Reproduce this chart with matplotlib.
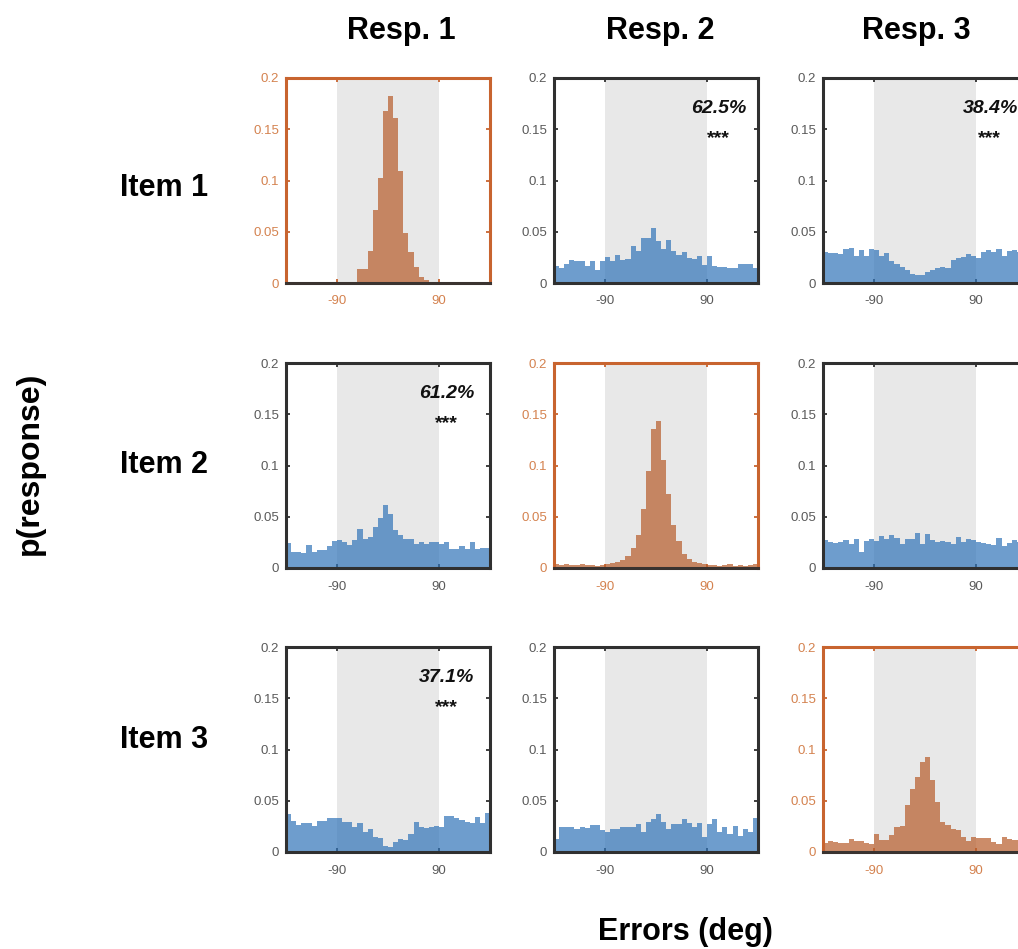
import numpy as np
import matplotlib
matplotlib.use("Agg")
import matplotlib.pyplot as plt

plt.rcParams['font.family'] = ['Liberation Sans', 'DejaVu Sans']
plt.rcParams['axes.unicode_minus'] = False

# Response-error histograms, 40 bins of 9 deg spanning -180..180
item1_resp1 = [0.001, 0.0, 0.001, 0.0, 0.001, 0.0, 0.0, 0.0, 0.001, 0.0,
               0.0, 0.0, 0.001, 0.001, 0.0137, 0.0137, 0.031, 0.071, 0.102, 0.168,
               0.182, 0.161, 0.109, 0.049, 0.030, 0.016, 0.006, 0.003, 0.001, 0.0,
               0.0, 0.0, 0.0, 0.001, 0.0, 0.0, 0.0, 0.0, 0.0, 0.001]
item1_resp2 = [0.017, 0.015, 0.019, 0.022, 0.021, 0.021, 0.017, 0.021, 0.013, 0.021,
               0.025, 0.021, 0.027, 0.022, 0.023, 0.036, 0.031, 0.044, 0.044, 0.054,
               0.041, 0.033, 0.042, 0.031, 0.027, 0.030, 0.024, 0.023, 0.026, 0.018,
               0.026, 0.017, 0.016, 0.016, 0.015, 0.015, 0.019, 0.019, 0.019, 0.015]
item1_resp3 = [0.030, 0.029, 0.029, 0.028, 0.033, 0.034, 0.026, 0.032, 0.026, 0.033,
               0.032, 0.026, 0.029, 0.021, 0.019, 0.016, 0.013, 0.009, 0.008, 0.008,
               0.011, 0.013, 0.015, 0.016, 0.015, 0.022, 0.024, 0.025, 0.028, 0.026,
               0.024, 0.030, 0.032, 0.030, 0.033, 0.026, 0.031, 0.032, 0.030, 0.029]
item2_resp1 = [0.024, 0.016, 0.016, 0.015, 0.022, 0.016, 0.018, 0.018, 0.021, 0.026,
               0.027, 0.025, 0.022, 0.027, 0.038, 0.028, 0.030, 0.040, 0.049, 0.061,
               0.053, 0.037, 0.032, 0.028, 0.028, 0.023, 0.025, 0.023, 0.025, 0.025,
               0.023, 0.025, 0.019, 0.019, 0.021, 0.019, 0.025, 0.019, 0.020, 0.020]
item2_resp2 = [0.004, 0.003, 0.004, 0.003, 0.003, 0.004, 0.003, 0.003, 0.002, 0.003,
               0.004, 0.005, 0.006, 0.008, 0.012, 0.020, 0.032, 0.058, 0.095, 0.136,
               0.143, 0.105, 0.072, 0.042, 0.026, 0.014, 0.009, 0.006, 0.005, 0.004,
               0.003, 0.003, 0.002, 0.003, 0.004, 0.002, 0.003, 0.002, 0.003, 0.004]
item2_resp3 = [0.027, 0.025, 0.024, 0.025, 0.027, 0.023, 0.028, 0.016, 0.026, 0.028,
               0.026, 0.031, 0.028, 0.032, 0.029, 0.023, 0.028, 0.028, 0.034, 0.023,
               0.033, 0.027, 0.025, 0.026, 0.025, 0.023, 0.030, 0.025, 0.028, 0.027,
               0.025, 0.024, 0.023, 0.022, 0.029, 0.021, 0.024, 0.027, 0.025, 0.026]
item3_resp1 = [0.037, 0.030, 0.026, 0.028, 0.028, 0.025, 0.030, 0.030, 0.033, 0.033,
               0.033, 0.029, 0.029, 0.024, 0.028, 0.020, 0.022, 0.015, 0.014, 0.006,
               0.005, 0.010, 0.013, 0.012, 0.018, 0.029, 0.024, 0.023, 0.024, 0.025,
               0.024, 0.035, 0.035, 0.033, 0.031, 0.029, 0.028, 0.034, 0.028, 0.038]
item3_resp2 = [0.013, 0.024, 0.024, 0.024, 0.022, 0.024, 0.023, 0.026, 0.026, 0.021,
               0.020, 0.022, 0.022, 0.024, 0.024, 0.024, 0.027, 0.020, 0.029, 0.032,
               0.037, 0.029, 0.022, 0.027, 0.027, 0.032, 0.028, 0.024, 0.028, 0.015,
               0.027, 0.032, 0.020, 0.024, 0.018, 0.025, 0.016, 0.022, 0.020, 0.033]
item3_resp3 = [0.009, 0.011, 0.010, 0.009, 0.009, 0.013, 0.011, 0.011, 0.009, 0.008,
               0.018, 0.012, 0.012, 0.017, 0.024, 0.025, 0.046, 0.061, 0.073, 0.088,
               0.093, 0.070, 0.049, 0.029, 0.026, 0.022, 0.021, 0.015, 0.011, 0.015,
               0.014, 0.014, 0.014, 0.010, 0.008, 0.015, 0.013, 0.012, 0.012, 0.011]

panels = [[item1_resp1, item1_resp2, item1_resp3],
          [item2_resp1, item2_resp2, item2_resp3],
          [item3_resp1, item3_resp2, item3_resp3]]

col_titles = ["Resp. 1", "Resp. 2", "Resp. 3"]
row_titles = ["Item 1", "Item 2", "Item 3"]
# (row, col) -> swap percentage label and significance marker
swap_labels = {(0, 1): "62.5%", (0, 2): "38.4%", (1, 0): "61.2%", (2, 0): "37.1%"}
swap_stars = {(0, 1): "***", (0, 2): "***", (1, 0): "***", (2, 0): "***"}

x_ticks = [-90, 90]
y_ticks = [0, 0.05, 0.1, 0.15, 0.2]
y_ticklabels = ["0", "0.05", "0.1", "0.15", "0.2"]

ORANGE_FRAME = "#C8642F"
ORANGE_TEXT = "#D4824F"
ORANGE_BAR = "#B75B29"
BLUE_BAR = "#3174B8"
DARK = "#303030"
GRAY_TEXT = "#5A5A5A"
SHADE = "#E8E8E8"

W, H = 1018, 949
fig = plt.figure(figsize=(W / 100, H / 100), dpi=100)

col_left = [286, 554, 823]
row_top = [78, 363, 647]
ax_w, ax_h = 204, 205

edges = np.linspace(-180, 180, 41)
centers = (edges[:-1] + edges[1:]) / 2

label_x = {(0, 1): 111, (0, 2): 115, (1, 0): 104, (2, 0): 104}

for r in range(3):
    for c in range(3):
        ax = fig.add_axes([col_left[c] / W, 1 - (row_top[r] + ax_h) / H,
                           ax_w / W, ax_h / H])
        diag = (r == c)
        frame = ORANGE_FRAME if diag else DARK
        tcol = ORANGE_TEXT if diag else GRAY_TEXT
        bar_col = ORANGE_BAR if diag else BLUE_BAR

        ax.axvspan(-90, 90, color=SHADE, zorder=0, lw=0)
        ax.bar(centers, panels[r][c], width=9, color=bar_col, alpha=0.7,
               linewidth=0, zorder=2)
        ax.set_xlim(-180, 180)
        ax.set_ylim(0, 0.2)
        ax.set_xticks(x_ticks)
        ax.set_xticklabels([str(v) for v in x_ticks])
        ax.set_yticks(y_ticks)
        ax.set_yticklabels(y_ticklabels)
        ax.tick_params(direction="in", length=3, width=1.3, colors=frame,
                       labelcolor=tcol, labelsize=9.5, top=True, right=True)
        ax.tick_params(axis="x", pad=9)
        ax.tick_params(axis="y", pad=5)
        for side in ["left", "right", "top"]:
            ax.spines[side].set_color(frame)
            ax.spines[side].set_linewidth(2.2)
        ax.spines["bottom"].set_color("#3a3330" if diag else DARK)
        ax.spines["bottom"].set_linewidth(2.2)
        for sp in ax.spines.values():
            sp.set_zorder(5)

        if (r, c) in swap_labels:
            ax.text(label_x[(r, c)], 0.170, swap_labels[(r, c)], ha="center",
                    va="center", fontsize=14, fontweight="bold",
                    fontstyle="italic", color="#111111", zorder=6)
            ax.text(label_x[(r, c)] - 1, 0.141, swap_stars[(r, c)],
                    ha="center", va="center", fontsize=14, fontweight="bold",
                    color="#111111", zorder=6)

title_x = [401, 660, 916]
for c, t in enumerate(col_titles):
    fig.text(title_x[c] / W, 1 - 31 / H, t, ha="center", va="center",
             fontsize=22, fontweight="bold")

row_y = [188, 465, 740]
for r, t in enumerate(row_titles):
    fig.text(164 / W, 1 - row_y[r] / H, t, ha="center", va="center",
             fontsize=22, fontweight="bold")

fig.text(30 / W, 1 - 463 / H, "p(response)", rotation=90, ha="center",
         va="center", fontsize=23, fontweight="bold")
fig.text(685 / W, 1 - 932 / H, "Errors (deg)", ha="center", va="center",
         fontsize=22, fontweight="bold")

fig.savefig("out.png", dpi=100)
